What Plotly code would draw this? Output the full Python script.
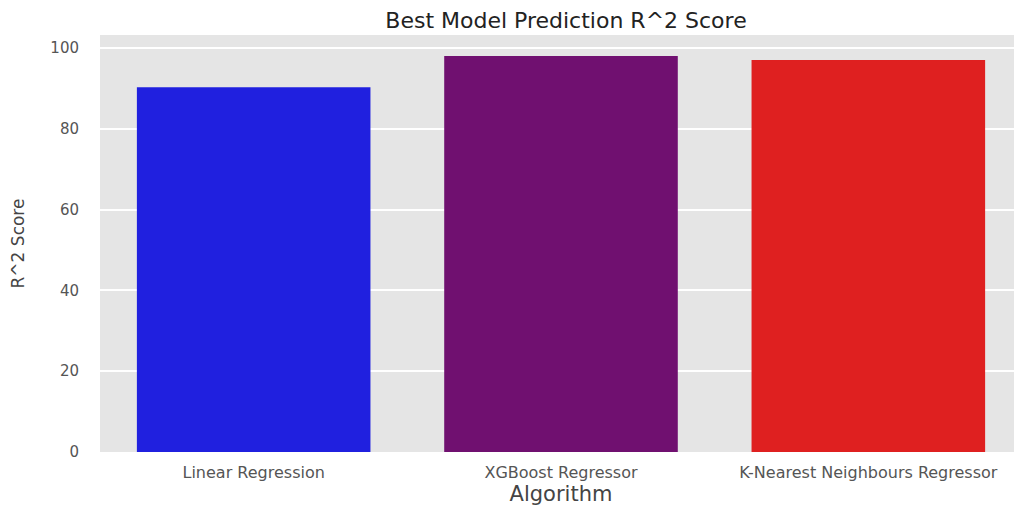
import plotly.graph_objects as go

algorithms = ["Linear Regression", "XGBoost Regressor", "K-Nearest Neighbours Regressor"]
r2_scores = [90.3, 98.0, 97.0]
bar_colors = ["#2020DF", "#701070", "#DF2020"]
y_ticks = [0, 20, 40, 60, 80, 100]

fig = go.Figure(go.Bar(
    x=algorithms, y=r2_scores,
    marker=dict(color=bar_colors, line=dict(width=0)),
))

fig.update_layout(
    width=1022, height=511,
    margin=dict(l=92, r=8, t=27, b=67),
    paper_bgcolor="white", plot_bgcolor="#E5E5E5",
    bargap=0.24,
    showlegend=False,
    title=dict(text="Best Model Prediction R^2 Score", x=0.546, xanchor="center",
               y=0.976, yanchor="middle",
               font=dict(family="DejaVu Sans", size=22, color="#222")),
    font=dict(family="DejaVu Sans", color="#555"),
)
fig.update_xaxes(
    showgrid=False, ticks="", tickfont=dict(size=16, color="#555"), ticklabelstandoff=9,
    title=dict(text="Algorithm", font=dict(size=21, color="#444"), standoff=4),
    range=[-0.5, 2.5], automargin=False,
)
fig.update_yaxes(
    range=[0, 103.2], tickvals=y_ticks, showgrid=True, gridcolor="white", gridwidth=1.5,
    zeroline=False, ticks="", tickfont=dict(size=15, color="#555"), ticklabelstandoff=20,
    title=dict(text="R^2 Score", font=dict(family="DejaVu Sans", size=17, color="#444"), standoff=22),
    automargin=False,
)

fig.write_html("out.html")
